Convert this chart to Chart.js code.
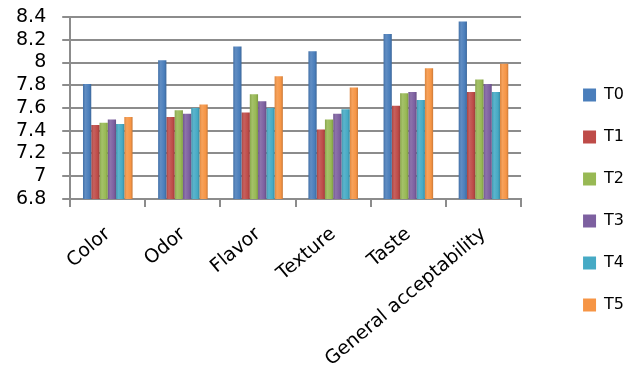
<!DOCTYPE html>
<html>
<head>
<meta charset="utf-8">
<script src="https://cdn.jsdelivr.net/npm/chart.js@4/dist/chart.umd.min.js"></script>
<style>
  html, body { margin: 0; padding: 0; background: #fff; }
  #wrap { width: 628px; height: 383px; }
</style>
</head>
<body>
<div id="wrap"><canvas id="sensoryChart" width="628" height="383"></canvas></div>
<script>
// sensory scores per attribute
const categories = ['Color', 'Odor', 'Flavor', 'Texture', 'Taste', 'General acceptability'];
const seriesNames = ['T0', 'T1', 'T2', 'T3', 'T4', 'T5'];

const t0 = [7.81, 8.02, 8.14, 8.10, 8.25, 8.36];
const t1 = [7.45, 7.52, 7.56, 7.41, 7.62, 7.74];
const t2 = [7.47, 7.58, 7.72, 7.50, 7.73, 7.85];
const t3 = [7.50, 7.55, 7.66, 7.55, 7.74, 7.81];
const t4 = [7.46, 7.60, 7.60, 7.59, 7.67, 7.74];
const t5 = [7.52, 7.63, 7.88, 7.78, 7.95, 7.99];

const yTicks = [6.8, 7, 7.2, 7.4, 7.6, 7.8, 8, 8.2, 8.4];

const seriesValues = [t0, t1, t2, t3, t4, t5];
const seriesColors = ['#4A7EBB', '#BE4B48', '#98B954', '#7D60A0', '#46AAC5', '#F69545'];

const fontFamily = '"DejaVu Sans", sans-serif';

// lighten (amt > 0) or darken (amt < 0) a hex colour
function shade(hex, amt) {
  const n = parseInt(hex.slice(1), 16);
  let r = n >> 16, g = (n >> 8) & 255, b = n & 255;
  const f = c => amt > 0 ? Math.round(c + (255 - c) * amt) : Math.round(c * (1 + amt));
  return `rgb(${f(r)}, ${f(g)}, ${f(b)})`;
}

// cylinder look: soft gradient across each bar
function cylinderFill(color) {
  return function (context) {
    const el = context.element;
    if (!el || !isFinite(el.x) || !isFinite(el.width)) {
      return color;
    }
    const c = context.chart.ctx;
    const g = c.createLinearGradient(el.x - el.width / 2, 0, el.x + el.width / 2, 0);
    g.addColorStop(0, shade(color, -0.1));
    g.addColorStop(0.3, shade(color, 0.12));
    g.addColorStop(0.75, color);
    g.addColorStop(1, shade(color, -0.18));
    return g;
  };
}

// push the legend over to the right, away from the plot
const legendShift = {
  id: 'legendShift',
  afterLayout(chart) {
    const lg = chart.legend;
    if (lg) {
      lg.left += 36;
      lg.right += 36;
    }
  }
};

const ctx = document.getElementById('sensoryChart').getContext('2d');

const chart = new Chart(ctx, {
  type: 'bar',
  data: {
    labels: categories,
    datasets: seriesNames.map((name, i) => ({
      label: name,
      data: seriesValues[i],
      backgroundColor: cylinderFill(seriesColors[i]),
      borderWidth: 0,
      categoryPercentage: 0.66,
      barPercentage: 1.0
    }))
  },
  options: {
    responsive: false,
    animation: false,
    layout: {
      padding: { top: 17, right: 30, left: 0, bottom: 0 }
    },
    scales: {
      x: {
        grid: {
          display: true,
          drawOnChartArea: false,
          drawTicks: true,
          tickLength: 8,
          color: '#8c8c8c',
          lineWidth: 2
        },
        border: { display: true, color: '#8c8c8c', width: 2 },
        ticks: {
          autoSkip: false,
          maxRotation: 40,
          minRotation: 40,
          padding: 16,
          color: '#000',
          font: { family: fontFamily, size: 19 }
        },
        afterFit(scale) {
          scale.height = 184;
        }
      },
      y: {
        min: 6.8,
        max: 8.4,
        afterBuildTicks(scale) {
          scale.ticks = yTicks.map(v => ({ value: v }));
        },
        afterFit(scale) {
          scale.paddingTop = 0;
        },
        grid: {
          color: '#8c8c8c',
          lineWidth: 2,
          tickLength: 8
        },
        border: { display: true, color: '#8c8c8c', width: 2 },
        ticks: {
          autoSkip: false,
          padding: 16,
          color: '#000',
          font: { family: fontFamily, size: 19 },
          callback: function (value) {
            return String(Math.round(value * 10) / 10);
          }
        }
      }
    },
    plugins: {
      legend: {
        position: 'right',
        labels: {
          boxWidth: 13,
          boxHeight: 13,
          padding: 26,
          color: '#000',
          font: { family: fontFamily, size: 16 },
          generateLabels(chart) {
            const items = Chart.defaults.plugins.legend.labels.generateLabels(chart);
            items.forEach((item, i) => {
              item.fillStyle = seriesColors[i];
              item.strokeStyle = seriesColors[i];
              item.lineWidth = 0;
            });
            return items;
          }
        }
      },
      tooltip: { enabled: false }
    }
  },
  plugins: [legendShift]
});

// second pass so the gradients know where each bar sits
chart.update();
</script>
</body>
</html>
